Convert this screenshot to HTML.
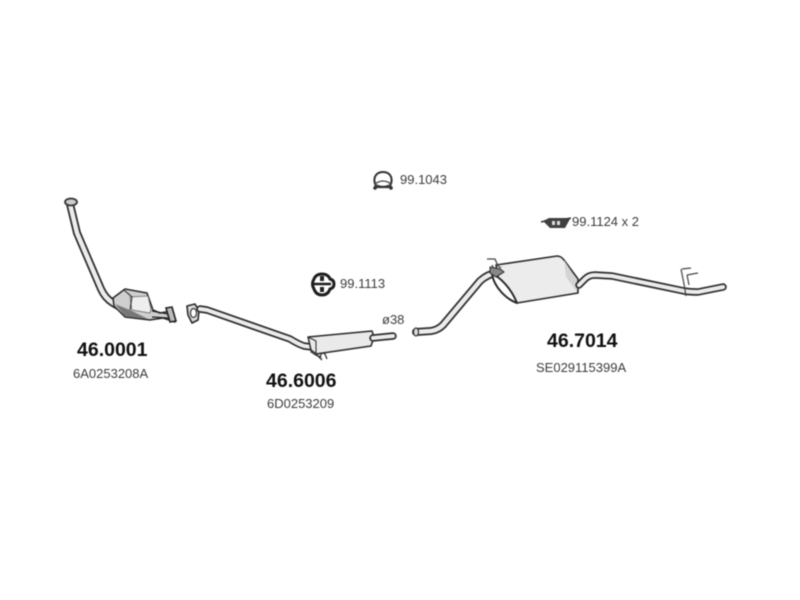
<!DOCTYPE html>
<html><head><meta charset="utf-8"><style>
html,body{margin:0;padding:0;background:#fff;width:800px;height:600px;overflow:hidden}
svg{display:block;filter:blur(0.6px)}
text{font-family:"Liberation Sans",sans-serif}
.b{font-weight:bold;font-size:19.5px;fill:#111}
.s{font-size:13px;fill:#3c3c3c}
.o{fill:none;stroke:#2e2e2e;stroke-linejoin:round;stroke-linecap:round}
.i{fill:none;stroke:#ececec;stroke-linejoin:round;stroke-linecap:round}
</style></head><body>
<svg width="800" height="600" viewBox="0 0 800 600" xmlns="http://www.w3.org/2000/svg">
<rect width="800" height="600" fill="#fff"/>

<!-- Part 1: front pipe and catalyst -->
<path class="o" stroke-width="8" d="M70 204L77 233L101 289Q105 298 113 303L120 307"/>
<path class="i" stroke-width="4.5" d="M70 204L77 233L101 289Q105 298 113 303L120 307"/>
<ellipse cx="71" cy="202" rx="6" ry="3.5" fill="#ccc" stroke="#333" stroke-width="1.8"/>
<path d="M113 298L125 289L147 293L153 310L160 313L171 311L175 322L163 318L150 320L125 317L114 306Z" fill="#cfcfcf" stroke="#2a2a2a" stroke-width="1.5" stroke-linejoin="round"/>
<path d="M130 297L148 296L151 309L150 313L132 310Z" fill="#eee" stroke="#666" stroke-width="0.8"/>
<path d="M115 304L125 316L148 319L132 311Z" fill="#777"/>
<path d="M124 290L132 297L130 310" fill="none" stroke="#333" stroke-width="1.1"/>
<path d="M152 311L168 314M152 317L168 318" stroke="#222" stroke-width="1.2"/>
<path d="M166 308L172 307L176 321L170 322Z" fill="#bbb" stroke="#222" stroke-width="1.6"/>

<!-- Part 2: mid pipe and silencer -->
<path d="M187 306L195 304L199 311L198 320L192 323L188 315Z" fill="#ddd" stroke="#2a2a2a" stroke-width="1.6" stroke-linejoin="round"/>
<ellipse cx="193.500" cy="313" rx="3" ry="4.500" fill="#fff" stroke="#333" stroke-width="1.2"/>
<path class="o" stroke-width="7.500" d="M200 309L207 310L290 339Q298 344 304 346L312 347"/>
<path class="i" stroke-width="4" d="M200 309L207 310L290 339Q298 344 304 346L312 347"/>
<path d="M308 337L372 331L374 337L371 346L316 354L311 350Z" fill="#eaeaea" stroke="#2a2a2a" stroke-width="1.5" stroke-linejoin="round"/>
<path d="M308 337L316 341L316 354" fill="none" stroke="#333" stroke-width="1.1"/>
<path d="M311 350L318 355L323 358L316 356L310 352Z" fill="#444"/>
<path d="M320 358Q321 351 325 354L327 359M314 352L320 358L322 360" fill="none" stroke="#333" stroke-width="1.3"/>
<path class="o" stroke-width="7.500" d="M373 338L393 336"/>
<path class="i" stroke-width="4" d="M373 338L393 336"/>

<!-- Part 3: rear pipe and silencer -->
<path class="o" stroke-width="8" d="M416 332L431 331Q438 330 443 325L480 281Q488 274 496 273"/>
<path class="i" stroke-width="4.500" d="M416 332L431 331Q438 330 443 325L480 281Q488 274 496 273"/>
<ellipse cx="416" cy="332" rx="2.500" ry="4" fill="#ddd" stroke="#333" stroke-width="1.200"/>
<path d="M496 265L557 256Q561 256 564 260L578 279L578 293L517 303Q506 297 499 283Z" fill="#ececec" stroke="#2a2a2a" stroke-width="1.600" stroke-linejoin="round"/>
<path d="M492 274C500 277 511 288 517 303C506 299 494 287 492 274Z" fill="#fff" stroke="#2a2a2a" stroke-width="2" stroke-linejoin="round"/>
<path d="M564 260L577 280L577 292L566 277Z" fill="#d4d4d4"/>
<path d="M487 259L495 259L498 266L501 268M492 265L496 273" fill="none" stroke="#444" stroke-width="1.300"/>
<path d="M490 267L500 269L504 272L496 277L490 273Z" fill="#888" stroke="#2a2a2a" stroke-width="1"/>
<path class="o" stroke-width="7.500" d="M579 285L585 279Q589 275 595 275L612 276L684 291Q690 292 698 292L723 287"/>
<path class="i" stroke-width="4" d="M579 285L585 279Q589 275 595 275L612 276L684 291Q690 292 698 292L723 287"/>
<path d="M682 269L691 268M681 269L684 284L686 296M687 275L698 273M687 275L689 285" fill="none" stroke="#444" stroke-width="1.200"/>

<!-- Clamp 99.1043 -->
<path d="M376 186C372 178 376 172 383 172C390 172 394 178 390 186" fill="none" stroke="#333" stroke-width="2"/>
<path d="M375 184Q383 178 391 184Q383 189 375 184Z" fill="#fff" stroke="#444" stroke-width="1.300"/>
<path d="M374 187L392 187" stroke="#333" stroke-width="2.200"/>
<circle cx="375" cy="188" r="1.800" fill="#333"/><circle cx="391" cy="188" r="1.800" fill="#333"/>

<!-- Hanger 99.1113 -->
<path d="M322 274Q328 274 330 279Q334 280 334 284Q334 288 330 289Q328 295 322 295Q316 295 314 289Q311 284 314 279Q316 274 322 274Z" fill="#fff" stroke="#1e1e1e" stroke-width="3"/>
<path d="M314 284H331" stroke="#1e1e1e" stroke-width="2.600"/>
<path d="M320 276h4v5h-4zM320 287h4v5h-4z" fill="#222"/>

<!-- Clamp 99.1124 -->
<path d="M543 221L549 218L569 218L570 219L565 228L550 228Z" fill="#404040"/>
<path d="M552 221h3v4h-3zM557 221h3v4h-3z" fill="#ddd"/>
<path d="M541 222L545 221M566 219L571 218" stroke="#333" stroke-width="1.500"/>

<!-- Labels -->
<text class="s" x="400" y="184">99.1043</text>
<text class="s" x="572" y="226">99.1124 x 2</text>
<text class="s" x="340" y="288">99.1113</text>
<text class="s" x="382" y="324">ø38</text>
<text class="b" x="77" y="356">46.0001</text>
<text class="s" x="73" y="378">6A0253208A</text>
<text class="b" x="266" y="387">46.6006</text>
<text class="s" x="267" y="408">6D0253209</text>
<text class="b" x="547" y="347">46.7014</text>
<text class="s" x="536" y="372">SE029115399A</text>
</svg>
</body></html>
